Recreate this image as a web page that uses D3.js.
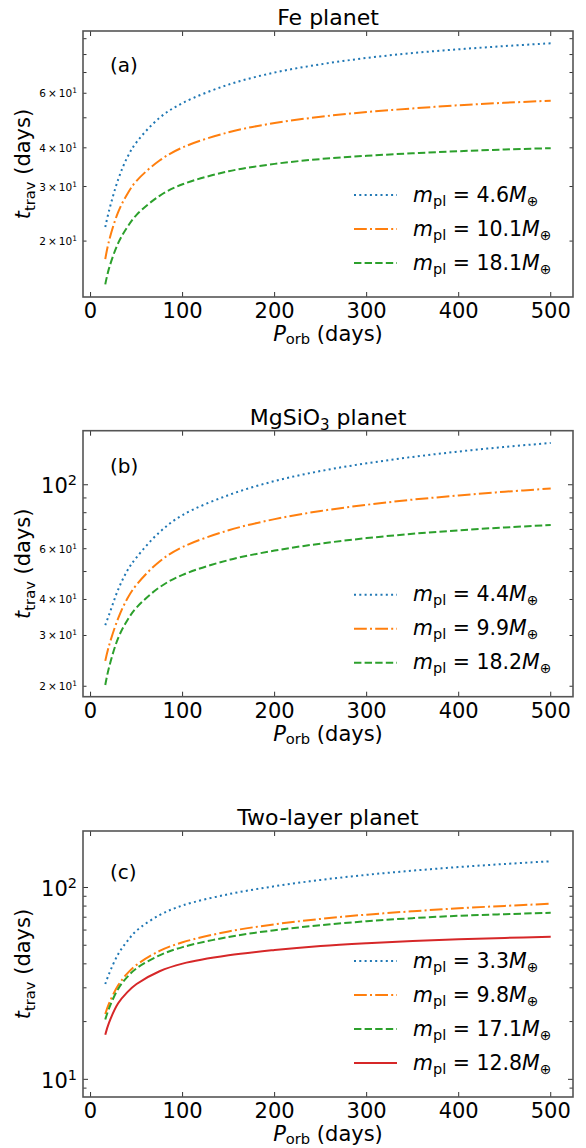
<!DOCTYPE html>
<html>
<head>
<meta charset="utf-8">
<script src="https://cdn.jsdelivr.net/npm/d3@7"></script>
<style>
  body { margin: 0; background: #fff; }
  text { font-family: "DejaVu Sans", sans-serif; fill: #000; }
</style>
</head>
<body>
<div id="chart"></div>
<script>
// orbital period samples (days)
const P_orb = [16, 20, 30, 40, 50, 75, 100, 150, 200, 250, 300, 350, 400, 450, 500];
const xTicks = [0, 100, 200, 300, 400, 500];
const xLimits = [-8.2, 524.2];

// (a) Fe planet
const feBlue   = [22.2, 25.0, 31.6, 37.3, 41.7, 50.0, 55.8, 64.0, 70.0, 74.4, 78.0, 80.9, 83.2, 85.2, 87.0];
const feOrange = [17.5, 20.0, 24.8, 28.4, 31.3, 36.4, 40.1, 44.9, 48.1, 50.4, 52.2, 53.6, 54.9, 55.9, 56.8];
const feGreen  = [14.5, 16.3, 19.7, 22.2, 24.3, 28.0, 30.5, 33.6, 35.5, 36.8, 37.7, 38.4, 39.0, 39.5, 39.9];
const feMasses = ["4.6", "10.1", "18.1"];

// (b) MgSiO3 planet
const mgBlue   = [32.6, 35.3, 43.3, 50.4, 56.0, 68.5, 78.5, 92.1, 103.0, 111.6, 118.7, 124.9, 130.4, 135.3, 139.6];
const mgOrange = [24.5, 27.6, 34.4, 40.3, 45.0, 54.2, 60.8, 69.5, 76.0, 81.1, 85.2, 88.8, 91.8, 94.6, 97.0];
const mgGreen  = [20.2, 23.2, 29.4, 33.9, 37.5, 44.1, 48.7, 54.8, 59.1, 62.5, 65.3, 67.6, 69.5, 71.1, 72.5];
const mgMasses = ["4.4", "9.9", "18.2"];

// (c) two-layer planet
const twoBlue   = [31.4, 35.4, 44.9, 52.6, 59.6, 71.8, 80.6, 92.3, 101.5, 109.5, 116.4, 122.4, 127.8, 132.6, 137.0];
const twoOrange = [21.9, 24.8, 30.9, 35.7, 39.5, 46.7, 51.8, 59.0, 64.3, 68.6, 72.2, 75.2, 77.9, 80.2, 82.3];
const twoGreen  = [20.5, 23.4, 29.6, 34.2, 37.9, 44.3, 48.9, 55.2, 59.9, 63.6, 66.7, 69.2, 71.2, 72.6, 73.8];
const twoRed    = [17.1, 19.7, 24.9, 28.5, 31.4, 36.6, 40.1, 44.3, 47.2, 49.5, 51.2, 52.6, 53.7, 54.6, 55.3];
const twoMasses = ["3.3", "9.8", "17.1", "12.8"];

const titles = ["Fe planet", "MgSiO_3 planet", "Two-layer planet"];
const panelLabels = ["(a)", "(b)", "(c)"];
const yLimits = [[13.2, 95.3], [18.4, 154], [8.09, 197]];
const minorLabelled = [[20, 30, 40, 60], [20, 30, 40, 60], []];

const panels = [
    {title: titles[0], label: panelLabels[0], ylim: yLimits[0], minorLab: minorLabelled[0],
     series: [feBlue, feOrange, feGreen], masses: feMasses},
    {title: titles[1], label: panelLabels[1], ylim: yLimits[1], minorLab: minorLabelled[1],
     series: [mgBlue, mgOrange, mgGreen], masses: mgMasses},
    {title: titles[2], label: panelLabels[2], ylim: yLimits[2], minorLab: minorLabelled[2],
     series: [twoBlue, twoOrange, twoGreen, twoRed], masses: twoMasses}
];

const seriesColors = ["#1f77b4", "#ff7f0e", "#2ca02c", "#d62728"];
const seriesDash = ["2,3.3", "12.8,3.2,2,3.2", "7.4,3.2", null];

// layout
const width = 586, height = 1148;
const axLeft = 83, axRight = 573, axHeight = 266;
const axTops = [31, 430.7, 831];
const labelDy = [41, 42, 48];
const majorLen = 5, minorLen = 3.5;

const svg = d3.select("#chart").append("svg")
    .attr("width", width)
    .attr("height", height);

let x = d3.scaleLinear().domain(xLimits).range([axLeft, axRight]);

function logTicks(lo, hi) {
    let major = [], minor = [];
    for (let k = Math.floor(Math.log10(lo)); k <= Math.ceil(Math.log10(hi)); k++) {
        for (let m = 1; m <= 9; m++) {
            let v = m * Math.pow(10, k);
            if (v < lo || v > hi) continue;
            if (m === 1) major.push(v); else minor.push(v);
        }
    }
    return {major, minor};
}

panels.forEach((p, i) => {
    let top = axTops[i], bottom = top + axHeight;
    let y = d3.scaleLog().domain(p.ylim).range([bottom, top]);
    let g = svg.append("g");

    g.append("clipPath").attr("id", "clip" + i)
        .append("rect")
        .attr("x", axLeft).attr("y", top)
        .attr("width", axRight - axLeft).attr("height", axHeight);

    // curves
    let line = d3.line()
        .x((d, j) => x(P_orb[j]))
        .y(d => y(d))
        .curve(d3.curveCatmullRom.alpha(0.5));

    g.append("g").attr("clip-path", "url(#clip" + i + ")")
        .selectAll("path")
        .data(p.series)
        .join("path")
        .attr("d", line)
        .attr("fill", "none")
        .attr("stroke", (d, k) => seriesColors[k])
        .attr("stroke-width", 2)
        .attr("stroke-dasharray", (d, k) => seriesDash[k]);

    // x ticks (inward, top and bottom)
    xTicks.forEach(t => {
        g.append("line").attr("x1", x(t)).attr("x2", x(t))
            .attr("y1", bottom).attr("y2", bottom - majorLen)
            .attr("stroke", "#333").attr("stroke-width", 1);
        g.append("line").attr("x1", x(t)).attr("x2", x(t))
            .attr("y1", top).attr("y2", top + majorLen)
            .attr("stroke", "#333").attr("stroke-width", 1);
        g.append("text")
            .attr("x", x(t)).attr("y", bottom + 21)
            .attr("text-anchor", "middle")
            .attr("font-size", 21)
            .text(t);
    });

    // y ticks (log)
    let lt = logTicks(p.ylim[0], p.ylim[1]);
    let drawY = (v, len) => {
        g.append("line").attr("x1", axLeft).attr("x2", axLeft + len)
            .attr("y1", y(v)).attr("y2", y(v))
            .attr("stroke", "#333").attr("stroke-width", 1);
        g.append("line").attr("x1", axRight).attr("x2", axRight - len)
            .attr("y1", y(v)).attr("y2", y(v))
            .attr("stroke", "#333").attr("stroke-width", 1);
    };
    lt.major.forEach(v => {
        drawY(v, majorLen);
        let e = Math.round(Math.log10(v));
        let t = g.append("text")
            .attr("x", axLeft - 6).attr("y", y(v) + 8.5)
            .attr("text-anchor", "end")
            .attr("font-size", 21);
        t.append("tspan").text("10");
        t.append("tspan").attr("font-size", 14.5).attr("dy", -8).text(e);
    });
    lt.minor.forEach(v => {
        drawY(v, minorLen);
        if (p.minorLab.indexOf(v) < 0) return;
        let e = Math.floor(Math.log10(v));
        let m = Math.round(v / Math.pow(10, e));
        let t = g.append("text")
            .attr("x", axLeft - 6).attr("y", y(v) + 4)
            .attr("text-anchor", "end")
            .attr("font-size", 10.5);
        t.append("tspan").text(m + "\u2009\u00d7\u200910");
        t.append("tspan").attr("font-size", 7.5).attr("dy", -4).text(e);
    });

    // spines
    g.append("rect")
        .attr("x", axLeft).attr("y", top)
        .attr("width", axRight - axLeft).attr("height", axHeight)
        .attr("fill", "none")
        .attr("stroke", "#555")
        .attr("stroke-width", 1.6);

    // title
    let tt = g.append("text")
        .attr("x", (axLeft + axRight) / 2).attr("y", top - 6)
        .attr("text-anchor", "middle")
        .attr("font-size", 22);
    p.title.split(/_(\w)/).forEach((s, k) => {
        if (k % 2 === 1) {
            tt.append("tspan").attr("font-size", 15).attr("dy", 5).text(s);
        } else {
            tt.append("tspan").attr("dy", k > 0 ? -5 : 0).text(s);
        }
    });

    // panel label
    g.append("text")
        .attr("x", 110).attr("y", top + labelDy[i])
        .attr("font-size", 20)
        .text(p.label);

    // x label
    let xl = g.append("text")
        .attr("x", (axLeft + axRight) / 2).attr("y", bottom + 44)
        .attr("text-anchor", "middle")
        .attr("font-size", 21);
    xl.append("tspan").attr("font-style", "italic").text("P");
    xl.append("tspan").attr("font-size", 14.7).attr("dy", 3).text("orb");
    xl.append("tspan").attr("dy", -3).text(" (days)");

    // y label
    let yl = g.append("text")
        .attr("transform", `translate(30,${top + axHeight / 2}) rotate(-90)`)
        .attr("text-anchor", "middle")
        .attr("font-size", 21);
    yl.append("tspan").attr("font-style", "italic").text("t");
    yl.append("tspan").attr("font-size", 14.7).attr("dy", 5).text("trav");
    yl.append("tspan").attr("dy", -5).text(" (days)");

    // legend (lower right)
    let n = p.masses.length;
    p.masses.forEach((m, k) => {
        let ly = bottom - 34 - (n - 1 - k) * 34;
        g.append("line")
            .attr("x1", 354).attr("x2", 397)
            .attr("y1", ly).attr("y2", ly)
            .attr("stroke", seriesColors[k])
            .attr("stroke-width", 2)
            .attr("stroke-dasharray", seriesDash[k]);
        let t = g.append("text")
            .attr("x", 413).attr("y", ly + 6.7)
            .attr("font-size", 20.5);
        t.append("tspan").attr("font-style", "italic").text("m");
        t.append("tspan").attr("font-size", 14.5).attr("dy", 4).text("pl");
        t.append("tspan").attr("dy", -4).text(" = " + m);
        t.append("tspan").attr("font-style", "italic").text("M");
        t.append("tspan").attr("font-size", 14).attr("dy", 4).text("\u2295");
    });
});
</script>
</body>
</html>
